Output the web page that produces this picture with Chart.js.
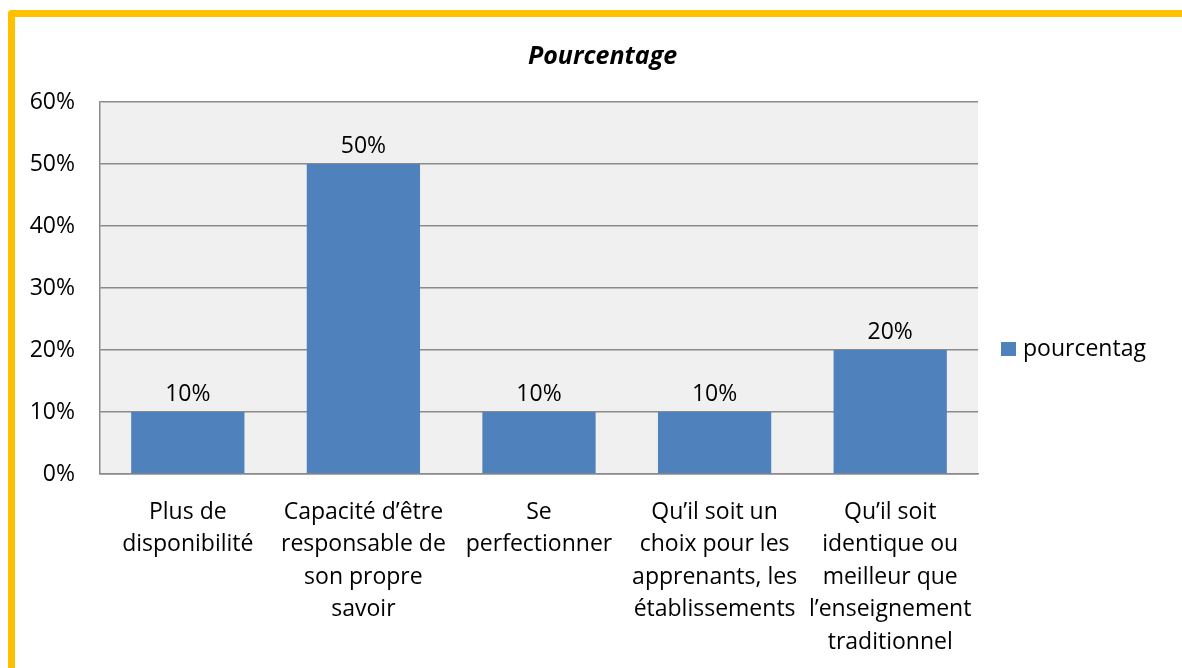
<!DOCTYPE html>
<html>
<head>
<meta charset="utf-8">
<script src="https://cdn.jsdelivr.net/npm/chart.js@4"></script>
<style>
  html, body { margin: 0; padding: 0; background: #fff; overflow: hidden; }
  body { width: 1182px; height: 668px; position: relative; font-family: "Open Sans", Lato, sans-serif; }
  .frame {
    position: absolute; left: 8px; top: 10px; width: 1200px; height: 700px;
    border-left: 7px solid #FFC000; border-top: 7px solid #FFC000;
    border-top-left-radius: 4px;
  }
  .wrap { position: absolute; left: 15px; top: 17px; width: 1175px; height: 651px; }
  .legend { position: absolute; left: 1001px; top: 331px; font-size: 23px; line-height: 32px; color: #000; white-space: nowrap; }
  .legend span.box { display: inline-block; width: 15px; height: 14px; background: #4F81BD; margin-right: 7px; vertical-align: 0px; }
</style>
</head>
<body>
<div class="frame"></div>
<div class="wrap"><canvas id="chart" width="1175" height="651"></canvas></div>
<div class="legend"><span class="box"></span>pourcentag</div>

<script>
// data
const categories = [
    ['Plus de', 'disponibilité'],
    ['Capacité d’être', 'responsable de', 'son propre', 'savoir'],
    ['Se', 'perfectionner'],
    ['Qu’il soit un', 'choix pour les', 'apprenants, les', 'établissements'],
    ['Qu’il soit', 'identique ou', 'meilleur que', 'l’enseignement', 'traditionnel']
];
const values = [10, 50, 10, 10, 20];
const yTicks = [0, 10, 20, 30, 40, 50, 60];
const seriesName = 'pourcentag';
const chartTitle = 'Pourcentage';

const FONT = '"Open Sans", Lato, sans-serif';

// grey plot background
const plotBg = {
    id: 'plotBg',
    beforeDraw(chart) {
        const a = chart.chartArea;
        const ctx = chart.ctx;
        ctx.save();
        ctx.fillStyle = '#F0F0F0';
        ctx.fillRect(a.left, a.top, a.right - a.left, a.bottom - a.top);
        ctx.restore();
    }
};

// title centred on the whole frame, not on the plot
const frameTitle = {
    id: 'frameTitle',
    afterDraw(chart) {
        const ctx = chart.ctx;
        ctx.save();
        ctx.font = 'italic bold 25px ' + FONT;
        ctx.fillStyle = '#000';
        ctx.textAlign = 'center';
        ctx.textBaseline = 'middle';
        ctx.fillText(chartTitle, chart.width / 2, 40);
        ctx.restore();
    }
};

// value labels on top of bars
const barLabels = {
    id: 'barLabels',
    afterDatasetsDraw(chart) {
        const ctx = chart.ctx;
        const meta = chart.getDatasetMeta(0);
        ctx.save();
        ctx.font = '23px ' + FONT;
        ctx.fillStyle = '#000';
        ctx.textAlign = 'center';
        ctx.textBaseline = 'middle';
        meta.data.forEach((bar, i) => {
            ctx.fillText(values[i] + '%', bar.x, bar.y - 18);
        });
        ctx.restore();
    }
};

const ctx = document.getElementById('chart').getContext('2d');
new Chart(ctx, {
    type: 'bar',
    data: {
        labels: categories,
        datasets: [{
            label: seriesName,
            data: values,
            backgroundColor: '#4F81BD',
            categoryPercentage: 1,
            barPercentage: 0.645
        }]
    },
    options: {
        responsive: false,
        animation: false,
        layout: { padding: { left: 0, right: 212, top: 85, bottom: 0 } },
        plugins: {
            legend: { display: false },
            tooltip: { enabled: false },
            title: { display: false }
        },
        scales: {
            x: {
                grid: { display: false, drawTicks: false },
                border: { display: true, color: '#8a8a8a', width: 1.5 },
                ticks: {
                    color: '#000',
                    padding: 22,
                    maxRotation: 0,
                    autoSkip: false,
                    font: { family: FONT, size: 23, lineHeight: 1.413 }
                },
                afterFit(s) { s.height = 194; }
            },
            y: {
                min: 0,
                max: yTicks[yTicks.length - 1],
                afterBuildTicks(s) { s.ticks = yTicks.map(v => ({ value: v })); },
                grid: { color: '#8a8a8a', lineWidth: 1.5, drawTicks: false },
                border: { display: true, color: '#8a8a8a', width: 1.5 },
                ticks: {
                    color: '#000',
                    padding: 25,
                    font: { family: FONT, size: 23 },
                    callback: v => v + '%'
                },
                afterFit(s) { s.width = 85; }
            }
        }
    },
    plugins: [plotBg, barLabels, frameTitle]
});
</script>
</body>
</html>
